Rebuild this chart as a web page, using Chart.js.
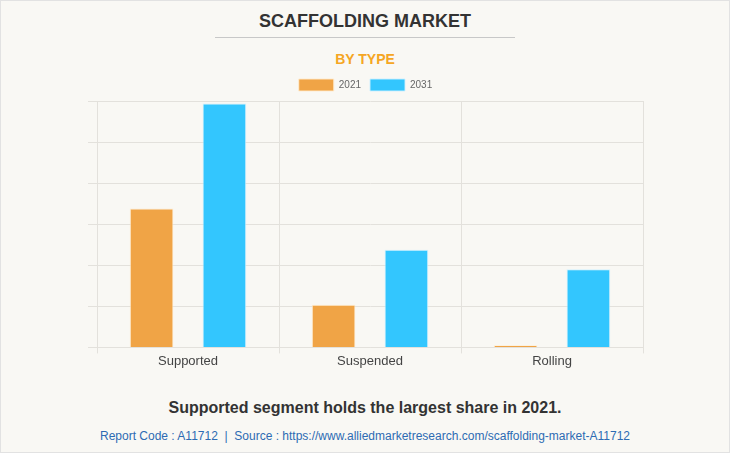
<!DOCTYPE html>
<html>
<head>
<meta charset="utf-8">
<script src="https://cdn.jsdelivr.net/npm/chart.js@4"></script>
<style>
  html, body { margin: 0; padding: 0; }
  body {
    width: 730px; height: 453px; position: relative; overflow: hidden;
    background: #f9f8f4; font-family: "Liberation Sans", Arial, sans-serif;
  }
  .frame { position: absolute; left: 0; top: 0; width: 728px; height: 451px; border: 1px solid #e2e2e2; }
  .title { position: absolute; top: 11px; left: 0; width: 730px; text-align: center;
    font-size: 18px; font-weight: bold; color: #333; }
  .rule { position: absolute; top: 37px; left: 215px; width: 300px; height: 1px; background: #c8c8c8; }
  .sub { position: absolute; top: 51px; left: 0; width: 730px; text-align: center;
    font-size: 14px; font-weight: bold; color: #f5a623; }
  .wrap { position: absolute; top: 70px; left: 0; width: 730px; height: 299px; }
  .note { position: absolute; top: 399px; left: 0; width: 730px; text-align: center;
    font-size: 16px; font-weight: bold; color: #333; }
  .src { position: absolute; top: 429px; left: 0; width: 730px; text-align: center;
    font-size: 12px; color: #2d6bb3; }
</style>
</head>
<body>
<div class="frame"></div>
<div class="title">SCAFFOLDING MARKET</div>
<div class="rule"></div>
<div class="sub">BY TYPE</div>
<div class="wrap"><canvas id="marketChart"></canvas></div>
<div class="note">Supported segment holds the largest share in 2021.</div>
<div class="src">Report Code : A11712 &nbsp;|&nbsp; Source : https://www.alliedmarketresearch.com/scaffolding-market-A11712</div>

<script>
// kategoriler ve seriler (eksen etiketleri gizli, değerler göreli)
const types = ['Supported', 'Suspended', 'Rolling'];
const years = ['2021', '2031'];
const values2021 = [3.38, 1.04, 0.05];
const values2031 = [5.94, 2.38, 1.90];

const gridColor = '#e3e1dc';

const ctx = document.getElementById('marketChart').getContext('2d');
new Chart(ctx, {
    type: 'bar',
    data: {
        labels: types,
        datasets: [
            {
                label: years[0],
                data: values2021,
                backgroundColor: '#f0a446',
                borderColor: 'rgba(255, 235, 205, 0.9)',
                borderWidth: 1
            },
            {
                label: years[1],
                data: values2031,
                backgroundColor: '#33c6fe',
                borderColor: 'rgba(205, 240, 255, 0.9)',
                borderWidth: 1
            }
        ]
    },
    options: {
        responsive: true,
        maintainAspectRatio: false,
        animation: false,
        categoryPercentage: 0.8,
        barPercentage: 0.6,
        layout: { padding: { left: 88, right: 87, top: 0, bottom: 0 } },
        plugins: {
            legend: {
                position: 'top',
                labels: {
                    boxWidth: 35,
                    boxHeight: 12,
                    padding: 9,
                    color: '#666',
                    font: { family: 'Liberation Sans', size: 10 }
                }
            },
            tooltip: { enabled: false }
        },
        scales: {
            x: {
                grid: { color: gridColor, tickLength: 6 },
                border: { color: gridColor },
                ticks: { color: '#444', padding: 0, font: { family: 'Liberation Sans', size: 13 } }
            },
            y: {
                beginAtZero: true,
                min: 0,
                max: 6,
                ticks: { display: false, stepSize: 1 },
                grid: { color: gridColor, tickLength: 9 },
                border: { color: gridColor }
            }
        }
    }
});
</script>
</body>
</html>
